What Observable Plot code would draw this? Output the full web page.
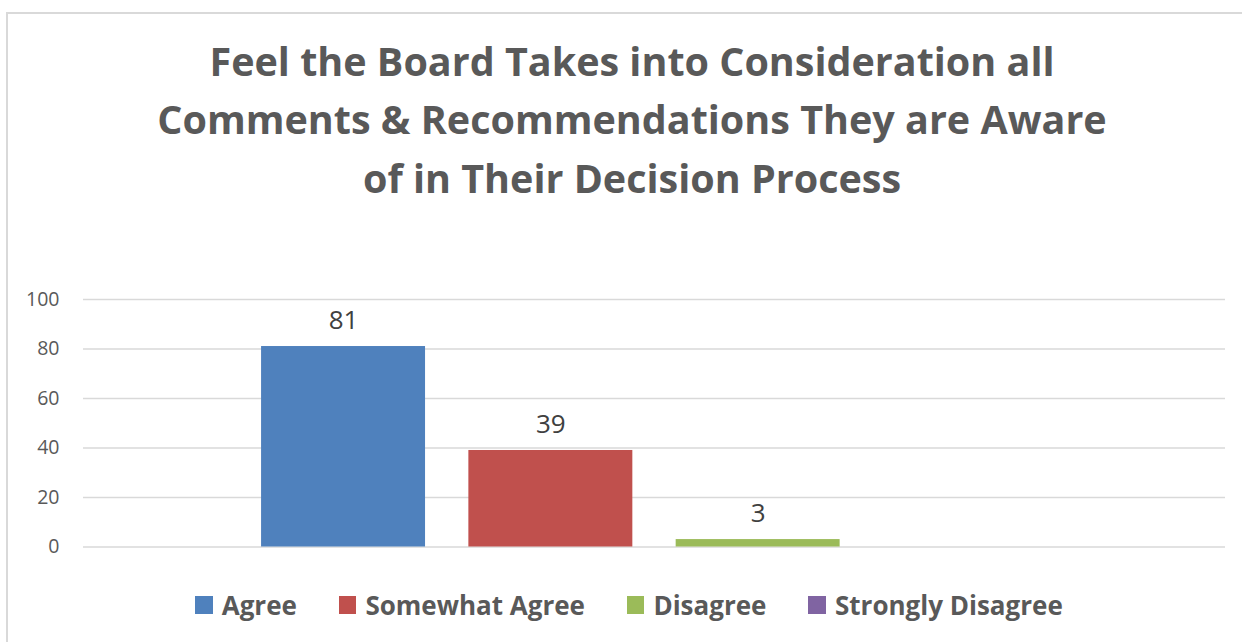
<!DOCTYPE html>
<html>
<head>
<meta charset="utf-8">
<script src="https://cdn.jsdelivr.net/npm/d3@7"></script>
<script src="https://cdn.jsdelivr.net/npm/@observablehq/plot@0.6"></script>
<style>
  html, body { margin: 0; padding: 0; background: #fff; width: 1242px; height: 642px; overflow: hidden; }
  body { position: relative; font-family: "Open Sans", "Noto Sans", sans-serif; }
  #frame { position: absolute; left: 6px; top: 12px; width: 1300px; height: 700px; border: 2px solid #d9d9d9; box-sizing: border-box; }
  #title { position: absolute; left: 6px; width: 1252px; top: 31.5px; text-align: center; font-weight: 700; font-size: 39.5px; line-height: 58.7px; color: #595959; }
  #chart { position: absolute; left: 0; top: 260px; }
  #legend { position: absolute; left: 6px; width: 1246px; top: 587.7px; display: flex; justify-content: center; align-items: center; font-weight: 700; font-size: 26px; line-height: 35px; color: #595959; }
  .item { display: flex; align-items: center; margin: 0 21px; }
  .sw { width: 17.5px; height: 17.5px; margin-right: 9px; }
</style>
</head>
<body>
<div id="frame"></div>
<div id="title"></div>
<div id="chart"></div>
<div id="legend"></div>
<script>
const titleLines = [
  "Feel the Board Takes into Consideration all",
  "Comments & Recommendations They are Aware",
  "of in Their Decision Process"
];
const series = ["Agree", "Somewhat Agree", "Disagree", "Strongly Disagree"];
const values = [81, 39, 3, null];
const colors = ["#4F81BD", "#C0504D", "#9BBB59", "#8064A2"];
const yTicks = [0, 20, 40, 60, 80, 100];

const data = series.map((s, i) => ({series: s, value: values[i]}));

document.getElementById("title").innerHTML = titleLines.map(l => `<div>${l.replace(/&/g, "&amp;")}</div>`).join("");

const chart = Plot.plot({
  width: 1242,
  height: 307,
  marginTop: 39,
  marginBottom: 20.5,
  marginLeft: 83,
  marginRight: 17,
  style: {fontFamily: '"Open Sans", "Noto Sans", sans-serif', background: "transparent", overflow: "visible"},
  x: {domain: series, paddingInner: 0.209, paddingOuter: 0.859, round: false, axis: null},
  y: {domain: [0, 100], axis: null, label: null},
  color: {domain: series, range: colors},
  marks: [
    Plot.ruleY(yTicks, {stroke: "#d9d9d9", strokeWidth: 1.4}),
    Plot.barY(data.filter(d => d.value != null), {x: "series", y: "value", fill: "series"}),
    Plot.text(data.filter(d => d.value != null), {x: "series", y: "value", text: d => String(d.value), dy: -26.3, fill: "#404040", fontSize: 26, textAnchor: "middle"}),
    Plot.axisY({ticks: yTicks, tickSize: 0, tickPadding: 24, fontSize: 19.5, color: "#595959", label: null, tickFormat: d => String(d)})
  ]
});
document.getElementById("chart").appendChild(chart);

document.getElementById("legend").innerHTML = series.map((s, i) =>
  `<div class="item"><div class="sw" style="background:${colors[i]}"></div><span>${s}</span></div>`).join("");
</script>
</body>
</html>
